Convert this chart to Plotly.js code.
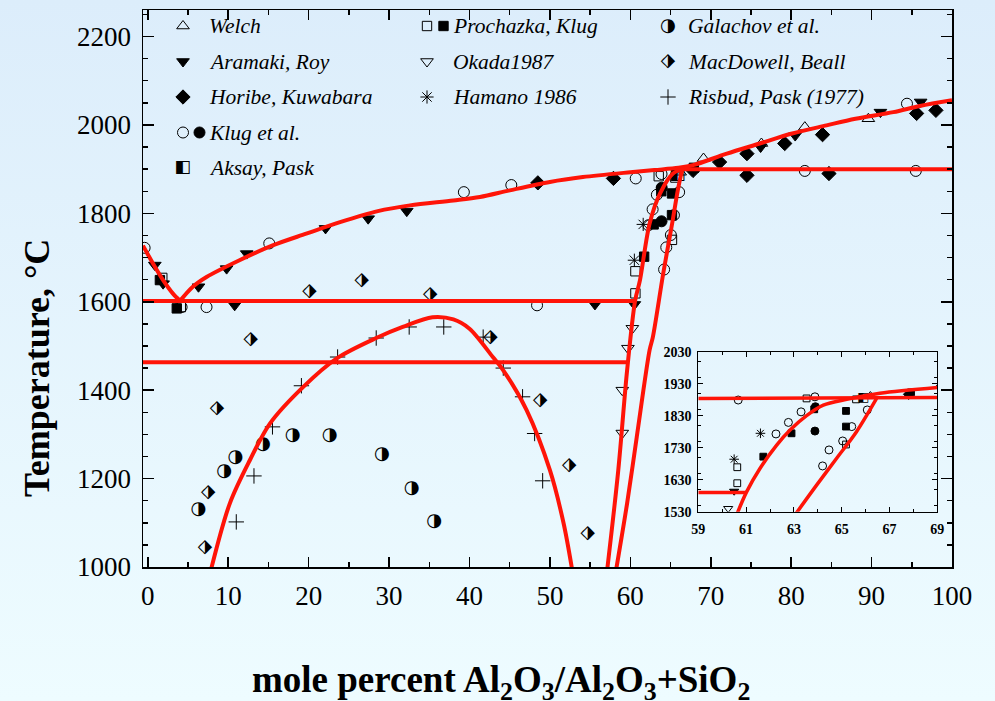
<!DOCTYPE html>
<html><head><meta charset="utf-8">
<script src="https://cdn.plot.ly/plotly-3.0.1.min.js"></script>
<style>
html,body{margin:0;padding:0;width:995px;height:701px;overflow:hidden;background:linear-gradient(to bottom,#dcedfb 0%,#eefcff 100%);}
#chart{width:995px;height:701px;}
</style></head><body><div id="chart"></div>
<script>
// ---------- phase-boundary curves (mole % Al2O3, °C) ----------
const liqSiO2X = [-0.6, 0.66, 1.9, 3.1, 4.0];
const liqSiO2T = [1727, 1686, 1649, 1619, 1602];
const liqMulX = [4.0, 5.6, 7.3, 11.4, 15.6, 19.7, 23.9, 28.6, 32.6, 38, 41.3, 45, 50, 54.1, 60, 63, 66, 67.8, 72, 76.1, 80, 84.4, 88, 92.7, 96, 100];
const liqMulT = [1602, 1634, 1656, 1694, 1728, 1754, 1780, 1805, 1818, 1829, 1837, 1852, 1871, 1882, 1893, 1898, 1903, 1909, 1935, 1958, 1980, 1999, 2014, 2029, 2043, 2056];
const eutX = [-0.6, 60.6];
const eutT = [1602, 1602];
const metaX = [-0.6, 59.7];
const metaT = [1463, 1463];
const isoX = [66.5, 100];
const isoT = [1900, 1900];
const domeX = [7.8, 10.2, 12.7, 15.2, 19.3, 23.5, 28.4, 31.7, 35.4, 38, 40, 42.9, 44.2, 47.1, 50, 51.7, 52.8];
const domeT = [990, 1144, 1242, 1325, 1407, 1472, 1518, 1543, 1565, 1560, 1539, 1475, 1445, 1355, 1219, 1099, 990];
const mulLX = [57.1, 58.5, 59.6, 60.6, 61.2, 62.4, 63.7, 65.3, 67.0];
const mulLT = [990, 1219, 1445, 1603, 1649, 1777, 1845, 1890, 1904];
const mulRX = [58.2, 59.6, 60.8, 62.4, 62.8, 64.1, 65.2, 65.9, 66.5];
const mulRT = [990, 1144, 1294, 1491, 1520, 1665, 1777, 1852, 1904];

// inset curves
const inLiqX = [60.55, 61.02, 61.58, 62.28, 62.84, 63.53, 64.23, 65.21, 66.6, 69];
const inLiqT = [1510, 1592, 1665, 1738, 1785, 1830, 1863, 1881, 1900, 1918];
const inRightX = [62.95, 63.95, 64.79, 65.62, 66.46];
const inRightT = [1510, 1613, 1697, 1780, 1884];
const inIsoX = [59, 69];
const inIsoT = [1884, 1887];
const inEutX = [59, 61.0];
const inEutT = [1590, 1590];

// ---------- experimental points ----------
const welchX = [66.2, 69.1, 76.3, 81.7, 89.6];
const welchT = [1893, 1924, 1958, 1995, 2014];
const aramakiX = [0.87, 1.9, 6.3, 9.8, 10.8, 12.3, 22.1, 27.4, 32.2, 55.6, 60.5, 76.2, 80.5, 91.1, 96.1];
const aramakiT = [1683, 1641, 1634, 1675, 1592, 1709, 1766, 1788, 1805, 1594, 1594, 1950, 1976, 2029, 2052];
const horibeX = [48.5, 57.9, 67.8, 71.1, 74.5, 74.5, 79.2, 83.9, 84.7, 95.6, 98.0];
const horibeT = [1869, 1879, 1897, 1916, 1935, 1886, 1958, 1978, 1890, 2026, 2033];
const klugOpenX = [-0.4, 4.2, 7.3, 15.1, 39.3, 45.2, 48.4, 60.67, 62.25, 62.77, 63.3, 63.88, 64.2, 64.47, 65.04, 65.42, 66.07, 81.7, 94.4, 95.5];
const klugOpenT = [1722, 1588, 1588, 1732, 1848, 1864, 1592, 1879, 1773, 1809, 1842, 1889, 1673, 1723, 1751, 1796, 1848, 1896, 2048, 1896];
const klugFillX = [63.9, 63.88];
const klugFillT = [1858, 1782];
const aksayX = [65.9];
const aksayT = [1887];
const prochOpenX = [1.8, 4.1, 60.63, 60.63, 63.53, 65.18, 65.6];
const prochOpenT = [1654, 1588, 1669, 1619, 1884, 1740, 1881];
const prochFillX = [1.5, 3.6, 61.72, 62.9, 63.85, 65.18, 65.18, 67.9];
const prochFillT = [1649, 1585, 1702, 1775, 1850, 1845, 1796, 1903];
const okadaX = [59.0, 59.0, 59.7, 60.25];
const okadaT = [1303, 1400, 1495, 1540];
const hamanoX = [60.5, 61.6];
const hamanoT = [1694, 1775];
const galachovX = [6.3, 9.5, 10.9, 14.3, 18.0, 22.6, 29.1, 32.8, 35.6];
const galachovT = [1131, 1215, 1248, 1278, 1297, 1297, 1255, 1178, 1104];
const macdowellX = [7.1, 7.5, 8.6, 12.8, 20.1, 26.6, 35.1, 42.6, 48.8, 52.4, 54.7];
const macdowellT = [1045, 1170, 1360, 1515, 1624, 1649, 1617, 1520, 1377, 1229, 1077];
const risbudX = [11.0, 13.2, 15.5, 19.1, 23.6, 28.4, 32.5, 36.8, 41.7, 44.2, 46.6, 48.1, 49.1];
const risbudT = [1102, 1206, 1317, 1410, 1475, 1518, 1543, 1543, 1520, 1450, 1385, 1302, 1195];

// legend labels
const legendNames = ['Welch', 'Aramaki, Roy', 'Horibe, Kuwabara', 'Klug et al.', 'Aksay, Pask',
  'Prochazka, Klug', 'Okada1987', 'Hamano 1986',
  'Galachov et al.', 'MacDowell, Beall', 'Risbud, Pask (1977)'];

// ---------- styles ----------
const SERIF = '"Liberation Serif","Times New Roman",Times,serif';
const RED = '#ff1408';
const glyphFont = '"DejaVu Sans",sans-serif';
const styles = {
  welch: {symbol: 'triangle-up-open'},
  aramaki: {symbol: 'triangle-down', fill: true},
  horibe: {symbol: 'diamond', fill: true},
  klugOpen: {symbol: 'circle-open'},
  klugFill: {symbol: 'circle', fill: true},
  aksay: {glyph: '\u25E7', gscale: 1.6},
  prochOpen: {symbol: 'square-open', scale: 0.85},
  prochFill: {symbol: 'square', fill: true, scale: 0.85},
  okada: {symbol: 'triangle-down-open'},
  hamano: {symbol: 'asterisk-open'},
  galachov: {glyph: '\u25D1', gscale: 1.65},
  macdowell: {glyph: '\u2B17', gscale: 1.7},
  risbud: {symbol: 'cross-thin-open', scale: 1.0}
};
const seriesList = [
  ['welch', welchX, welchT], ['aramaki', aramakiX, aramakiT], ['horibe', horibeX, horibeT],
  ['klugOpen', klugOpenX, klugOpenT], ['klugFill', klugFillX, klugFillT], ['aksay', aksayX, aksayT],
  ['prochOpen', prochOpenX, prochOpenT], ['prochFill', prochFillX, prochFillT], ['okada', okadaX, okadaT],
  ['hamano', hamanoX, hamanoT], ['galachov', galachovX, galachovT], ['macdowell', macdowellX, macdowellT],
  ['risbud', risbudX, risbudT]
];

function pointTrace(key, x, y, xa, ya, size) {
  const st = styles[key];
  if (st.glyph) {
    return {x: x, y: y, xaxis: xa, yaxis: ya, mode: 'text', type: 'scatter',
      text: x.map(() => st.glyph), textposition: 'middle center',
      textfont: {family: glyphFont, size: size * st.gscale, color: '#000'}, hoverinfo: 'skip', showlegend: false, cliponaxis: true};
  }
  const s = size * (st.scale || 1);
  return {x: x, y: y, xaxis: xa, yaxis: ya, mode: 'markers', type: 'scatter',
    marker: {symbol: st.symbol, size: s, color: '#000', line: {color: '#000', width: 1}},
    hoverinfo: 'skip', showlegend: false, cliponaxis: true};
}
function lineTrace(x, y, xa, ya, w, spline) {
  return {x: x, y: y, xaxis: xa, yaxis: ya, mode: 'lines', type: 'scatter',
    line: {color: RED, width: w, shape: spline ? 'spline' : 'linear', smoothing: 0.9},
    hoverinfo: 'skip', showlegend: false};
}

const traces = [];
// points first (lines drawn on top)
seriesList.forEach(([k, x, y]) => traces.push(pointTrace(k, x, y, 'x', 'y', 11)));
seriesList.forEach(([k, x, y]) => traces.push(pointTrace(k, x, y, 'x2', 'y2', 8)));

[[liqSiO2X, liqSiO2T, true], [liqMulX, liqMulT, true], [eutX, eutT, false], [metaX, metaT, false],
 [isoX, isoT, false], [domeX, domeT, true], [mulLX, mulLT, true], [mulRX, mulRT, true]]
  .forEach(([x, y, s]) => traces.push(lineTrace(x, y, 'x', 'y', 4, s)));
[[inLiqX, inLiqT, true], [inRightX, inRightT, true], [inIsoX, inIsoT, false], [inEutX, inEutT, false]]
  .forEach(([x, y, s]) => traces.push(lineTrace(x, y, 'x2', 'y2', 3.5, s)));

// ---------- legend (pixel-space overlay axes x3/y3) ----------
const L = 143, R = 952, T = 10, B = 567;
const colSym = [183, 427, 668];
const colText = [207, 451, 686];
const rowY = r => 26 + 35.5 * r;
const legendLayout = [
  [0, 0, ['welch']], [0, 1, ['aramaki']], [0, 2, ['horibe']], [0, 3, ['klugOpen', 'klugFill']], [0, 4, ['aksay']],
  [1, 0, ['prochOpen', 'prochFill']], [1, 1, ['okada']], [1, 2, ['hamano']],
  [2, 0, ['galachov']], [2, 1, ['macdowell']], [2, 2, ['risbud']]
];
const annotations = [];
legendLayout.forEach(([c, r, keys], i) => {
  keys.forEach((k, j) => {
    traces.push(pointTrace(k, [colSym[c] + j * 16.5], [rowY(r)], 'x3', 'y3', 11));
  });
  annotations.push({xref: 'x3', yref: 'y3', x: colText[c], y: rowY(r), xanchor: 'left', yanchor: 'middle',
    text: '<i>' + legendNames[i] + '</i>', showarrow: false,
    font: {family: SERIF, size: 21.5, color: '#000'}});
});

annotations.push({xref: 'paper', yref: 'paper', x: (37 - L) / (R - L), y: (B - 368) / (B - T),
  text: '<b>Temperature, °C</b>', textangle: -90, showarrow: false, xanchor: 'center', yanchor: 'middle',
  font: {family: SERIF, size: 36, color: '#000'}});
annotations.push({xref: 'paper', yref: 'paper', x: (501 - L) / (R - L), y: (B - 682) / (B - T),
  text: '<b>mole percent Al<sub>2</sub>O<sub>3</sub>/Al<sub>2</sub>O<sub>3</sub>+SiO<sub>2</sub></b>', showarrow: false,
  xanchor: 'center', yanchor: 'middle', font: {family: SERIF, size: 37, color: '#000'}});

const axBase = {showgrid: false, zeroline: false, showline: true, linecolor: '#000', linewidth: 1.5,
  mirror: 'ticks', ticks: 'inside', tickcolor: '#000', tickwidth: 1.5, fixedrange: true};

const inX0 = 698.3, inX1 = 937.3, inY0 = 511.7, inY1 = 351.7;
const layout = {
  width: 995, height: 701,
  margin: {l: L, r: 995 - R, t: T, b: 701 - B, pad: 0},
  paper_bgcolor: 'rgba(0,0,0,0)', plot_bgcolor: 'rgba(0,0,0,0)',
  showlegend: false,
  font: {family: SERIF, color: '#000'},
  xaxis: Object.assign({}, axBase, {domain: [0, 1], anchor: 'y', range: [-0.6, 100], tickmode: 'linear', tick0: 0, dtick: 10,
    ticklen: 10, ticklabelstandoff: 4, tickfont: {family: SERIF, size: 27, color: '#000'},
    minor: {dtick: 5, ticks: 'inside', ticklen: 5, tickwidth: 1.5, tickcolor: '#000', showgrid: false}}),
  yaxis: Object.assign({}, axBase, {domain: [0, 1], anchor: 'x', range: [1000, 2260], tickmode: 'linear', tick0: 1000, dtick: 200,
    ticklen: 11, ticklabelstandoff: 5, tickfont: {family: SERIF, size: 27, color: '#000'},
    minor: {dtick: 50, ticks: 'inside', ticklen: 5, tickwidth: 1.5, tickcolor: '#000', showgrid: false}}),
  xaxis2: Object.assign({}, axBase, {domain: [(inX0 - L) / (R - L), (inX1 - L) / (R - L)], anchor: 'y2', range: [59, 69],
    tickmode: 'linear', tick0: 59, dtick: 2, ticklen: 5, linewidth: 1, tickwidth: 1, ticklabelstandoff: 4,
    tickfont: {family: SERIF, size: 14, color: '#000', weight: 'bold'},
    minor: {dtick: 1, ticks: 'inside', ticklen: 3, tickwidth: 1, tickcolor: '#000', showgrid: false}}),
  yaxis2: Object.assign({}, axBase, {domain: [(B - inY0) / (B - T), (B - inY1) / (B - T)], anchor: 'x2', range: [1530, 2030],
    tickmode: 'linear', tick0: 1530, dtick: 100, ticklen: 5, linewidth: 1, tickwidth: 1, ticklabelstandoff: 3,
    tickfont: {family: SERIF, size: 14, color: '#000', weight: 'bold'},
    minor: {dtick: 50, ticks: 'inside', ticklen: 3, tickwidth: 1, tickcolor: '#000', showgrid: false}}),
  xaxis3: {domain: [0, 1], anchor: 'y3', range: [L, R], visible: false, fixedrange: true},
  yaxis3: {domain: [0, 1], anchor: 'x3', range: [B, T], visible: false, fixedrange: true},
  annotations: annotations
};

Plotly.newPlot('chart', traces, layout, {staticPlot: true, displayModeBar: false});
</script></body></html>
